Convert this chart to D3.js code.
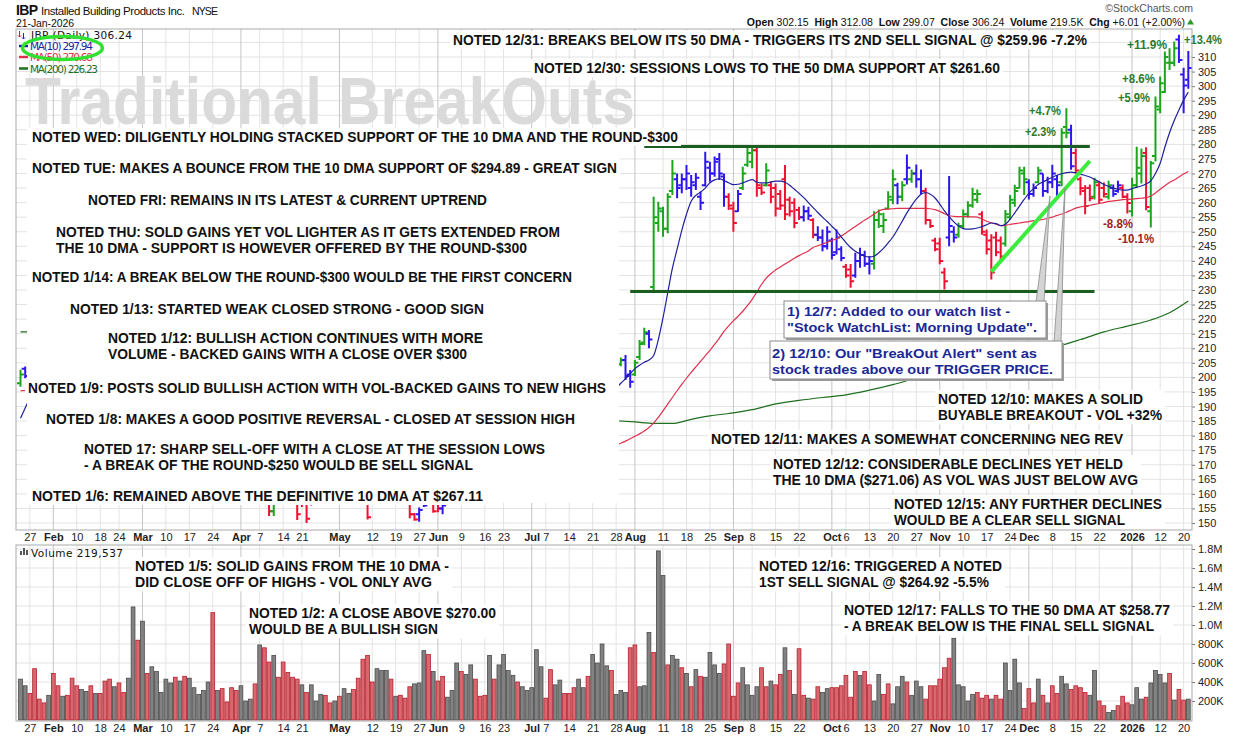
<!DOCTYPE html>
<html>
<head>
<meta charset="utf-8">
<title>IBP - Traditional BreakOuts</title>
<script src="https://cdn.jsdelivr.net/npm/d3@7/dist/d3.min.js"></script>
<style>
  body { margin: 0; background: #fff; }
  svg { display: block; font-family: "Liberation Sans", Arial, sans-serif; }
  .axis text { font-size: 11px; fill: #222; font-family: "Liberation Sans", Arial, sans-serif; }
  .axis path { display: none; }
  .axis line { stroke: #777; }
</style>
</head>
<body>
<svg width="1240" height="737"></svg>
<script>
// trading calendar
const firstDay = "2025-01-23";
const lastDay = "2026-01-21";
const holidays = ["2025-02-17", "2025-04-18", "2025-05-26", "2025-06-19", "2025-07-04",
  "2025-09-01", "2025-11-27", "2025-12-25", "2026-01-01", "2026-01-19"];

// daily bars, Jul 29 2025 -> Jan 21 2026
const priceStart = "2025-07-29";
const priceOpen = [204.5, 206, 201, 201, 207, 212, 215, 231, 253, 257,
  251, 264, 268, 266, 268, 265, 266, 262, 266, 272,
  270, 275, 269, 262, 258, 257, 265, 273, 274, 278,
  265, 266, 266, 265, 263, 268, 261, 260, 257.5, 255,
  257, 254, 249, 248, 245, 247, 243, 244, 238, 237,
  235, 240, 242, 239, 239, 254, 252, 258, 261, 266,
  262, 268, 268, 270, 268, 264, 254, 247, 246, 236,
  248, 250, 249, 252, 256, 259, 261, 256, 249, 247,
  248, 247, 246, 255, 260, 265, 270, 267, 263, 267,
  270, 264, 267, 268, 267, 286, 285, 277, 268, 264,
  265, 262, 266, 265, 262, 265, 264, 265, 262, 257,
  266, 270, 277, 257, 276, 292, 298, 308, 308, 316, 304, 302.15];
const priceHigh = [206.8, 207.7, 202.5, 206, 212.8, 217, 216.3, 262, 260.3, 258.6,
  263.2, 274.6, 270, 270, 272.9, 269.5, 270.2, 263.8, 277.5, 274,
  275.8, 277, 270, 263.2, 260.3, 264.3, 272.3, 279.2, 279.2, 279.2,
  266.6, 273.5, 267.2, 266.6, 264.3, 272.9, 262, 261.5, 258.6, 259,
  258.6, 254.6, 251.9, 250.8, 251.9, 247.9, 250.8, 245, 238.9, 238.9,
  242.8, 244.5, 243.5, 241.6, 257, 257.6, 256.5, 263.9, 271.4, 266.8,
  267.3, 276.5, 271.4, 273.1, 271.4, 265.1, 254.2, 247.9, 247.9, 237.6,
  269.1, 251.9, 253.1, 257.6, 260.5, 265.1, 264.5, 257, 250.8, 249.1,
  250, 248.4, 257.5, 262.6, 266.1, 272.3, 272.3, 268, 266.6, 272.3,
  270, 268.9, 273, 269.5, 285.5, 292.4, 286.7, 278.6, 268.9, 266,
  266.2, 268.5, 267.5, 266.9, 267.5, 266.2, 267.5, 266.2, 263.2, 268.5,
  279.2, 278.6, 279, 274.3, 296.4, 303.3, 311.9, 313, 315.3, 317.6, 306.3, 312.08];
const priceLow = [203.8, 199.1, 196.4, 200.5, 206, 211, 210, 229.5, 250, 248.3,
  249.5, 262.6, 261.5, 263.2, 264.3, 262, 264.3, 257.5, 265.5, 267.2,
  268.9, 267.8, 258.6, 257.5, 250, 256.9, 264.3, 272.3, 271.8, 262,
  262.6, 265.5, 259.8, 255.2, 257.5, 254, 255.2, 251.2, 254, 253.5,
  254, 247.8, 246.8, 243.3, 243.9, 240.5, 242.2, 239.9, 234.2, 230.8,
  234.2, 237.6, 238, 235.3, 237, 251.3, 249.6, 257.6, 259.4, 259.4,
  260.5, 266.2, 266.8, 265.1, 262.8, 252.5, 251.3, 243.3, 238.8, 230.2,
  245, 246.3, 247.9, 251, 254.8, 258.2, 259.9, 249, 242.2, 233.6,
  241.6, 240.3, 244.9, 254, 258.6, 264.9, 262.6, 261.1, 262, 266.6,
  262, 263.2, 265, 260.9, 265.6, 282.1, 271.3, 270, 262.5, 256,
  260.5, 261.1, 259.9, 261.8, 261.1, 262, 263.4, 261.5, 256.3, 255.2,
  265, 266.6, 257.4, 251.5, 274.1, 290.7, 297.6, 305.5, 306.8, 307.9, 290.7, 299.07];
const priceClose = [205.9, 200.5, 198.5, 205, 211.5, 215.5, 213, 255, 258, 251,
  262, 270, 265, 268, 270, 267, 268.5, 260, 274, 270,
  274, 270, 262, 259, 253, 263, 270, 277, 278, 266,
  263.5, 271, 262, 258, 259, 256, 257, 253, 255, 257,
  255.5, 249, 248, 245, 250, 242, 248, 241, 235, 233,
  240, 242, 239, 240, 254, 256, 254, 262, 268, 262,
  266, 272, 270, 268, 264, 254, 252, 244, 240, 233,
  252, 248, 252, 256, 259, 263, 263, 250, 244, 236,
  243, 241.5, 256, 261, 264, 271, 268, 263, 265, 271,
  264, 267, 270, 266, 284, 284, 272.5, 271, 264.9, 258.8,
  261.5, 267, 261, 263, 266, 263, 266, 262, 259.9, 266,
  272, 276, 258.5, 273.5, 293, 301, 310, 308, 313, 309, 300.2, 306.24];
const priceColor = ("gbbgggbggg" + "ggbbbbbbbb" + "bbbrrbgggr" + "rgrrrrrrrb" + "brbbbbbbrr" +
  "bbbbgggggb" + "gbgbbrrrrr" + "bbgggggrrr" + "rrgggggbbg" + "bbbbggbrrr" +
  "rgrrgbbrrg" + "ggrggggggbbb").split("");

// the few earlier bars that show around the notes
const earlyDays = ["2025-01-23", "2025-01-24", "2025-04-09", "2025-04-10", "2025-04-17", "2025-04-21",
  "2025-04-22", "2025-04-23", "2025-05-09", "2025-05-22", "2025-05-23", "2025-05-27", "2025-05-28",
  "2025-05-29", "2025-05-30", "2025-06-02", "2025-06-03"];
const earlyOpen = [198, 203, 158, 154, 159, 160, 158, 158, 160, 157, 153, 153, 158, 158, 157, 157, 155];
const earlyHigh = [202.6, 203.7, 161, 161, 162, 163, 162, 162, 163, 160, 153.4, 155.3, 161, 160, 160, 160, 160];
const earlyLow = [196.8, 199.7, 152.4, 152.4, 151, 155.5, 150, 156, 151.2, 151.6, 150.8, 150.4, 155.5, 157, 153.5, 153.7, 153];
const earlyClose = [201, 200.5, 154, 158, 153, 156.5, 151.5, 157.5, 152, 153, 151.2, 154.5, 156, 159, 154, 155, 156];
const earlyColor = "gbrgrrrbrrrbbgrrb".split("");

// moving averages, daily from Jul 28 2025
const maStart = "2025-07-28";
const ma10 = [196.3, 198, 199.5, 201.3, 203, 204.2, 205.2, 206, 207.5, 213,
  220.5, 229, 237.5, 244, 250.5, 256, 260.5, 262.5, 263.6, 265,
  266.8, 267.8, 268.2, 267.6, 266.8, 266.2, 266.3, 266.8, 267.4, 267.9,
  267, 266.8, 266.8, 267.1, 267.4, 267.4, 267, 266, 264.6, 263.2,
  261.7, 260, 258.3, 256.6, 255, 253.5, 251.9, 250.3, 248.2, 246.3,
  244.6, 243.3, 242.4, 241.6, 241.4, 241.6, 242.8, 244.3, 246.2, 248.2,
  250.8, 253.6, 256.5, 259, 261.2, 262.9, 263.4, 262.9, 261.6, 259.5,
  257.2, 255.2, 253.4, 252, 251.1, 250.9, 251, 251.3, 251.8, 252.4,
  253, 252.8, 252.1, 252.6, 254.3, 256.5, 258.8, 261.1, 263.2, 264.8,
  266.2, 267.1, 267.9, 268.7, 269.4, 269.9, 270.3, 270.5, 270.2, 269.8,
  269.3, 268.8, 268, 267.1, 266.2, 265.6, 265, 264.6, 264.3, 264.3,
  264.8, 265.3, 265.7, 266.4, 267.5, 270, 273.5, 279, 284, 288.2,
  291.8, 295.2, 297.94];
const ma50 = [176.9, 177.4, 178.1, 178.9, 179.8, 180.6, 181.6, 182.8, 184.3, 186.3,
  188.5, 190.8, 193.1, 195.4, 197.6, 199.7, 201.7, 203.6, 205.5, 207.4,
  209.3, 211.3, 213.5, 215.8, 217.7, 219.4, 221, 222.7, 224.6, 226.8,
  229.3, 231.9, 234.1, 235.6, 236.9, 237.9, 238.9, 239.9, 240.9, 241.8,
  242.6, 243.4, 244.6, 245.2, 245.8, 246.4, 247, 247.6, 248.5, 249.6,
  250.7, 251.8, 252.9, 254, 255, 256, 257.1, 257.7, 257.8, 257.9,
  258, 258, 258, 258, 258, 258, 258, 257.9, 257.6, 257,
  256.2, 255.5, 255.3, 255.2, 255.2, 255.2, 255.1, 255, 254.4, 253.6,
  253.1, 252.6, 252.1, 252.2, 252.5, 252.8, 253, 253.3, 253.5, 253.8,
  254, 254.2, 254.6, 255, 255.6, 256.1, 256.7, 257.4, 258.1, 258.5,
  258.8, 259.1, 259.4, 259.7, 260, 260.4, 260.6, 260.8, 261, 261.1,
  261.2, 261.4, 261.5, 261.7, 262.3, 263.3, 264.6, 265.8, 266.9, 267.8,
  268.8, 269.8, 270.7];
const ma200Days = ["2025-07-28", "2025-08-01", "2025-08-07", "2025-08-13", "2025-08-19", "2025-08-25",
  "2025-08-29", "2025-09-08", "2025-09-15", "2025-09-22", "2025-09-29", "2025-10-06", "2025-10-13",
  "2025-10-20", "2025-10-27", "2025-11-03", "2025-11-10", "2025-11-17", "2025-11-24", "2025-12-02",
  "2025-12-09", "2025-12-16", "2025-12-23", "2025-12-31", "2026-01-08", "2026-01-14", "2026-01-21"];
const ma200 = [185.1, 184.7, 184.2, 184.2, 185.6, 186.8, 187.6, 188.9, 190.9, 192.1, 193.1, 194,
  195.6, 197.5, 199.8, 201.9, 203.8, 205.4, 207.1, 208.7, 210.6, 213, 215.6, 217.6, 219.7, 222.2, 226.2];
const maEarlyDays = ["2025-01-23", "2025-01-24", "2025-01-27"];
const ma10Early = [186, 189.5, 193];
const ma50Early = [195.4, 195.5, 195.6];
const ma200Early = [215.6, 215.6, 215.7];

// volume (thousands), daily from Jan 23 2025
const volumeK = [430, 360, 280, 540, 220, 180, 260, 490, 360, 250,
  260, 440, 360, 320, 300, 360, 280, 280, 410, 430,
  350, 390, 290, 440, 1190, 840, 1040, 490, 560, 510,
  290, 430, 390, 450, 410, 460, 440, 340, 270, 310,
  400, 1130, 310, 330, 190, 340, 310, 360, 200, 220,
  380, 790, 760, 610, 680, 450, 610, 500, 450, 430,
  370, 290, 370, 200, 270, 260, 180, 200, 250, 330,
  280, 320, 440, 640, 680, 400, 540, 520, 520, 430,
  250, 260, 230, 350, 380, 390, 730, 690, 510, 410,
  460, 240, 310, 600, 510, 480, 580, 430, 250, 260,
  680, 430, 580, 690, 520, 470, 400, 350, 310, 340,
  740, 560, 230, 530, 370, 420, 280, 280, 340, 430,
  340, 460, 690, 600,
  800, 570, 520, 270, 310, 290, 760, 790, 350, 360,
  920, 710, 1780, 1520, 580, 680, 640, 550, 490, 350,
  530, 460, 450, 710, 580, 490, 590, 800, 250, 390,
  550, 370, 260, 350, 550, 350, 410, 370, 480, 760,
  520, 270, 750, 260, 230, 220, 350, 290, 330, 340,
  340, 360, 470, 240, 510, 470, 510, 370, 200, 480,
  270, 380, 170, 350, 460, 400, 260, 410, 350, 220,
  360, 360, 430, 550, 650, 860, 370, 350, 200, 270,
  290, 230, 260, 220, 260, 220, 600, 310, 640, 390,
  120, 330, 180, 430, 260, 180, 360, 280, 460, 380,
  320, 360, 340, 290, 260, 520, 200, 150, 80, 100,
  150, 250, 180, 160, 340, 220, 240, 390, 520, 480,
  390, 490, 210, 320, 210, 219.537];
const volumeColor = ("ggrrrrgrrg" + "rrrggrgrrr" + "grrggrgrgg" + "gggrgrgggg" + "grgrrrrggg" +
  "rgrrgrrrrr" + "grgggrrgrg" + "grrrrrgggr" + "grrrgggrgr" + "rgggrggrrr" + "grggggrggg" +
  "ggrrggrrrg" + "grg" + "g" +
  "ggrgggrrgg" + "grggrggrgr" + "grggggrrrr" + "ggggrrgrrg" + "rgrrgrrggr" + "rrrrrgrrgg" +
  "rrgggrgggr" + "rrrrrggggg" + "rrrgrrgggg" + "rrrgrgrrgg" + "rrrrggrrgg" + "rrrgggrggg" +
  "grgrrg").split("");

// hand-drawn lines
const levelFrom = ["2025-08-05", "2025-07-31"];
const levelTo = ["2025-12-18", "2025-12-19"];
const levelPrice = [279.3, 229.5];
const trendDays = ["2025-11-18", "2025-12-18"];
const trendPrice = [236.3, 274.3];

const priceGrid = d3.range(150, 316, 5);
const priceTicks = d3.range(150, 311, 5);
const volumeTicks = [200, 400, 600, 800, 1000, 1200, 1400, 1600, 1800];

// ---------------------------------------------------------------
const svg = d3.select("svg");
const P = { l: 16, r: 1192, t: 29, b: 530 };
const V = { l: 16, r: 1192, t: 545, b: 721 };

const fmtDay = d3.utcFormat("%Y-%m-%d");
const days = d3.utcDay
  .range(new Date(firstDay + "T00:00Z"), new Date(lastDay + "T12:00Z"))
  .filter(d => d.getUTCDay() % 6 !== 0 && !holidays.includes(fmtDay(d)))
  .map(fmtDay);
const dayDate = d => new Date(d + "T00:00Z");

const x = d3.scalePoint().domain(days).range([20.5, 20.5 + 4.69 * (days.length - 1)]);
const y = d3.scaleLinear().domain([150, 310]).range([523, 57]);
const yVol = d3.scaleLinear().domain([0, 1800]).range([720, 549]);

const run = (start, values) => {
  const i0 = days.indexOf(start);
  return values.map((v, i) => ({ day: days[i0 + i], v }));
};

// label days: first day of each month, first day of each week when not crowding a month label
const monthIdx = days.map((d, i) => i).filter(i => i > 0 && days[i].slice(0, 7) !== days[i - 1].slice(0, 7));
const weekIdx = days.map((d, i) => i).filter(i => i > 0 &&
  +d3.utcMonday.floor(dayDate(days[i])) !== +d3.utcMonday.floor(dayDate(days[i - 1])));
const labelIdx = days.map((d, i) => i).filter(i => {
  if (monthIdx.includes(i)) return true;
  if (!weekIdx.includes(i)) return false;
  const prev = d3.max(monthIdx.filter(m => m < i)) ?? -99;
  const next = d3.min(monthIdx.filter(m => m > i)) ?? 999;
  return i - prev >= 3 && next - i >= 4;
});
const labelDays = labelIdx.map(i => days[i]);
const monthDays = new Set(monthIdx.map(i => days[i]));
const labelText = d => {
  const dt = dayDate(d);
  if (monthDays.has(d)) return dt.getUTCMonth() === 0 ? d3.utcFormat("%Y")(dt) : d3.utcFormat("%b")(dt);
  return d3.utcFormat("%-d")(dt);
};

const defs = svg.append("defs");
defs.append("clipPath").attr("id", "pclip").append("rect")
  .attr("x", P.l).attr("y", P.t).attr("width", P.r - P.l).attr("height", P.b - P.t);
defs.append("clipPath").attr("id", "vclip").append("rect")
  .attr("x", V.l).attr("y", V.t).attr("width", V.r - V.l).attr("height", V.b - V.t);

// ---------------- grids ----------------
const grid = svg.append("g");
grid.selectAll("line.ph").data(priceGrid).join("line")
  .attr("x1", P.l).attr("x2", P.r).attr("y1", d => y(d)).attr("y2", d => y(d))
  .attr("stroke", "#e3e3e3");
grid.selectAll("line.vh").data(volumeTicks).join("line")
  .attr("x1", V.l).attr("x2", V.r).attr("y1", d => yVol(d)).attr("y2", d => yVol(d))
  .attr("stroke", "#e3e3e3");
[P, V].forEach(p => {
  grid.append("g").selectAll("line").data(labelDays).join("line")
    .attr("x1", d => x(d)).attr("x2", d => x(d)).attr("y1", p.t).attr("y2", p.b)
    .attr("stroke", d => monthDays.has(d) ? "#c4c4c4" : "#e3e3e3");
});

// watermark
svg.append("text").attr("x", 25).attr("y", 124)
  .attr("font-size", 66).attr("font-weight", "bold").attr("fill", "#dadada")
  .attr("textLength", 610).attr("lengthAdjust", "spacingAndGlyphs")
  .text("Traditional BreakOuts");

// ---------------- price panel ----------------
const gp = svg.append("g").attr("clip-path", "url(#pclip)");
const barColors = { g: "#1ca51c", r: "#f01030", b: "#2e16ee" };

const bars = run(priceStart, priceClose).map((p, i) => ({
  day: p.day, o: priceOpen[i], h: priceHigh[i], l: priceLow[i], c: p.v, k: priceColor[i]
})).concat(earlyDays.map((day, i) => ({
  day, o: earlyOpen[i], h: earlyHigh[i], l: earlyLow[i], c: earlyClose[i], k: earlyColor[i]
})));

gp.selectAll("path.bar").data(bars).join("path")
  .attr("class", "bar")
  .attr("d", b => {
    const cx = x(b.day);
    return `M${cx},${y(b.h)}V${y(b.l)}M${cx - 3.5},${y(b.o)}H${cx}M${cx},${y(b.c)}H${cx + 3.5}`;
  })
  .attr("fill", "none")
  .attr("stroke", b => barColors[b.k])
  .attr("stroke-width", 2);

const maLine = d3.line().x(d => x(d.day)).y(d => y(d.v)).curve(d3.curveMonotoneX);
const maSets = [
  { a: ma200Days.map((day, i) => ({ day, v: ma200[i] })), e: run(maEarlyDays[0], ma200Early), c: "#1e6e1e" },
  { a: run(maStart, ma50), e: run(maEarlyDays[0], ma50Early), c: "#e0304c" },
  { a: run(maStart, ma10), e: run(maEarlyDays[0], ma10Early), c: "#1f1f9e" }
];
maSets.forEach(m => {
  [m.a, m.e].forEach(seg => gp.append("path").attr("d", maLine(seg))
    .attr("fill", "none").attr("stroke", m.c).attr("stroke-width", 1.2));
});

// support / resistance levels and the trendline
gp.selectAll("line.level").data(levelPrice).join("line")
  .attr("x1", (d, i) => x(levelFrom[i])).attr("x2", (d, i) => x(levelTo[i]))
  .attr("y1", d => y(d)).attr("y2", d => y(d))
  .attr("stroke", "#1b5e20").attr("stroke-width", 3);
gp.append("line")
  .attr("x1", x(trendDays[0])).attr("y1", y(trendPrice[0]))
  .attr("x2", x(trendDays[1])).attr("y2", y(trendPrice[1]))
  .attr("stroke", "#3cec3c").attr("stroke-width", 4);

// ---------------- volume panel ----------------
const gv = svg.append("g").attr("clip-path", "url(#vclip)");
gv.selectAll("rect").data(run(firstDay, volumeK)).join("rect")
  .attr("x", d => x(d.day) - 1.9).attr("width", 3.8)
  .attr("y", d => yVol(d.v)).attr("height", d => yVol(0) - yVol(d.v))
  .attr("fill", (d, i) => volumeColor[i] === "r" ? "#d9676f" : "#828282")
  .attr("stroke", (d, i) => volumeColor[i] === "r" ? "#b3202c" : "#4a4a4a")
  .attr("stroke-width", 0.8);

// ---------------- notes ----------------
const notes = [
  { x: 453, y: 40, w: [634], t: ["NOTED 12/31: BREAKS BELOW ITS 50 DMA - TRIGGERS ITS 2ND SELL SIGNAL @ $259.96 -7.2%"] },
  { x: 534, y: 68, w: [466], t: ["NOTED 12/30: SESSIONS LOWS TO THE 50 DMA SUPPORT AT $261.60"] },
  { x: 32, y: 137, w: [646], t: ["NOTED WED: DILIGENTLY HOLDING STACKED SUPPORT OF THE 10 DMA AND THE ROUND-$300"] },
  { x: 32, y: 168, w: [585], t: ["NOTED TUE: MAKES A BOUNCE FROM THE 10 DMA SUPPORT OF $294.89 - GREAT SIGN"] },
  { x: 88, y: 200, w: [399], t: ["NOTED FRI: REMAINS IN ITS LATEST & CURRENT UPTREND"] },
  { x: 56, y: 232, w: [504, 471], t: ["NOTED THU: SOLD GAINS YET VOL LIGHTER AS IT GETS EXTENDED FROM",
    "THE 10 DMA - SUPPORT IS HOWEVER OFFERED BY THE ROUND-$300"] },
  { x: 32, y: 277, w: [540], t: ["NOTED 1/14: A BREAK BELOW THE ROUND-$300 WOULD BE THE FIRST CONCERN"] },
  { x: 70, y: 309, w: [414], t: ["NOTED 1/13: STARTED WEAK CLOSED STRONG - GOOD SIGN"] },
  { x: 108, y: 338, w: [375, 359], t: ["NOTED 1/12: BULLISH ACTION CONTINUES WITH MORE",
    "VOLUME - BACKED GAINS WITH A CLOSE OVER $300"] },
  { x: 28, y: 388, w: [578], t: ["NOTED 1/9: POSTS SOLID BULLISH ACTION WITH VOL-BACKED GAINS TO NEW HIGHS"] },
  { x: 46, y: 419, w: [529], t: ["NOTED 1/8: MAKES A GOOD POSITIVE REVERSAL - CLOSED AT SESSION HIGH"] },
  { x: 84, y: 449, w: [461, 389], t: ["NOTED 17: SHARP SELL-OFF WITH A CLOSE AT THE SESSION LOWS",
    "- A BREAK OF THE ROUND-$250 WOULD BE SELL SIGNAL"] },
  { x: 32, y: 496, w: [451], t: ["NOTED 1/6: REMAINED ABOVE THE DEFINITIVE 10 DMA AT $267.11"] },
  { x: 938, y: 399, w: [205, 224], t: ["NOTED 12/10: MAKES A SOLID", "BUYABLE BREAKOUT - VOL +32%"] },
  { x: 711, y: 439, w: [412], t: ["NOTED 12/11: MAKES A SOMEWHAT CONCERNING NEG REV"] },
  { x: 773, y: 464, w: [350, 365], t: ["NOTED 12/12: CONSIDERABLE DECLINES YET HELD",
    "THE 10 DMA ($271.06) AS VOL WAS JUST BELOW AVG"] },
  { x: 894, y: 504, w: [268, 231], t: ["NOTED 12/15: ANY FURTHER DECLINES", "WOULD BE A CLEAR SELL SIGNAL"] },
  { x: 135, y: 566, w: [314, 297], t: ["NOTED 1/5: SOLID GAINS FROM THE 10 DMA -", "DID CLOSE OFF OF HIGHS - VOL ONLY AVG"] },
  { x: 249, y: 613, w: [247, 189], t: ["NOTED 1/2: A CLOSE ABOVE $270.00", "WOULD BE A BULLISH SIGN"] },
  { x: 759, y: 566, w: [243, 230], t: ["NOTED 12/16: TRIGGERED A NOTED", "1ST SELL SIGNAL @ $264.92 -5.5%"] },
  { x: 844, y: 610, w: [326, 310], t: ["NOTED 12/17: FALLS TO THE 50 DMA AT $258.77", "- A BREAK BELOW IS THE FINAL SELL SIGNAL"] }
];
const lineGap = 16.3;
const gn = svg.append("g");
// the stacked left-hand notes share one white backing
gn.append("rect").attr("x", 27).attr("y", 128).attr("width", 592).attr("height", 375).attr("fill", "#fff");
gn.selectAll("rect.nb").data(notes).join("rect")
  .attr("x", d => d.x - 3).attr("y", d => d.y - 9)
  .attr("width", d => d3.max(d.w) + 6).attr("height", d => 18 + lineGap * (d.t.length - 1))
  .attr("fill", "#fff");
notes.forEach(n => n.t.forEach((t, i) => {
  gn.append("text").attr("x", n.x).attr("y", n.y + 5 + i * lineGap)
    .attr("font-size", 14).attr("font-weight", "bold").attr("fill", "#111")
    .attr("textLength", n.w[i]).attr("lengthAdjust", "spacingAndGlyphs")
    .text(t);
}));

// boxed call-outs with pointers
const callouts = [
  { box: [784, 301, 262, 37], x: 787, y: 311, w: [223, 250],
    t: ["1) 12/7: Added to our watch list -", "\"Stock WatchList: Morning Update\"."],
    ptr: [[1036, 302], [1044, 302], [1050, 196]] },
  { box: [770, 341, 292, 38], x: 772, y: 353, w: [265, 281],
    t: ["2) 12/10: Our \"BreakOut Alert\" sent as", "stock trades above our TRIGGER PRICE."],
    ptr: [[1054, 342], [1061, 342], [1065, 188]] }
];
callouts.forEach(c => {
  gn.append("polygon").attr("points", c.ptr.map(p => p.join(",")).join(" "))
    .attr("fill", "#d4d4d4").attr("stroke", "#8a8a8a").attr("stroke-width", 0.8);
});
callouts.forEach(c => {
  const [bx, by, bw, bh] = c.box;
  gn.append("rect").attr("x", bx + 2).attr("y", by + 2).attr("width", bw).attr("height", bh).attr("fill", "#9c9c9c");
  gn.append("rect").attr("x", bx).attr("y", by).attr("width", bw).attr("height", bh)
    .attr("fill", "#fff").attr("stroke", "#8c8c8c");
  c.t.forEach((t, i) => gn.append("text").attr("x", c.x).attr("y", c.y + 5 + i * 15.6)
    .attr("font-size", 13).attr("font-weight", "bold").attr("fill", "#1a2896")
    .attr("textLength", c.w[i]).attr("lengthAdjust", "spacingAndGlyphs").text(t));
});

// percent marks
const pctLabels = [
  { t: "+13.4%", x: 1184, y: 39, w: 38, up: true }, { t: "+11.9%", x: 1127, y: 44, w: 40, up: true },
  { t: "+8.6%", x: 1122, y: 78, w: 33, up: true }, { t: "+5.9%", x: 1118, y: 97, w: 32, up: true },
  { t: "+4.7%", x: 1029, y: 110, w: 32, up: true }, { t: "+2.3%", x: 1025, y: 131, w: 31, up: true },
  { t: "-8.8%", x: 1103, y: 223, w: 30, up: false }, { t: "-10.1%", x: 1118, y: 238, w: 36, up: false }
];
gn.selectAll("text.pct").data(pctLabels).join("text")
  .attr("x", d => d.x).attr("y", d => d.y + 4.5)
  .attr("font-size", 12.5).attr("font-weight", "bold")
  .attr("fill", d => d.up ? "#2b7a2b" : "#9e1c1c")
  .attr("textLength", d => d.w).attr("lengthAdjust", "spacingAndGlyphs")
  .text(d => d.t);

// ---------------- legends ----------------
const lg = svg.append("g").attr("font-family", "DejaVu Sans, sans-serif").attr("font-size", 10.5);
lg.append("path").attr("d", "M19.5,31V37M18,35.5L19.5,37L21,35.5").attr("stroke", "#e01a2a").attr("fill", "none");
lg.append("path").attr("d", "M23.5,33V39M22,37.5L23.5,39L25,37.5").attr("stroke", "#2e16ee").attr("fill", "none");
lg.append("text").attr("x", 31).attr("y", 39).attr("fill", "#111").attr("textLength", 101).text("IBP (Daily) 306.24");
const maLegend = [
  { t: "MA(10) 297.94", c: "#1f1f9e", y: 46, w: 63 },
  { t: "MA(50) 270.68", c: "#e0304c", y: 57, w: 63 },
  { t: "MA(200) 226.23", c: "#1e6e1e", y: 68.5, w: 68 }
];
maLegend.forEach(m => {
  lg.append("line").attr("x1", 19).attr("x2", 28).attr("y1", m.y).attr("y2", m.y).attr("stroke", m.c).attr("stroke-width", 2.5);
  lg.append("text").attr("x", 30).attr("y", m.y + 4).attr("fill", m.c).attr("textLength", m.w).text(m.t);
});
lg.append("ellipse").attr("cx", 62.5).attr("cy", 48).attr("rx", 40).attr("ry", 11.5)
  .attr("fill", "none").attr("stroke", "#2fe22f").attr("stroke-width", 3.5);
[[20, 4], [23, 7], [26, 5]].forEach(([bx, bh]) => lg.append("rect")
  .attr("x", bx).attr("y", 555 - bh).attr("width", 2).attr("height", bh).attr("fill", "#555"));
lg.append("text").attr("x", 31).attr("y", 557).attr("fill", "#111").attr("textLength", 92).text("Volume 219,537");

// ---------------- axes ----------------
const dateAxis = (g) => g.call(d3.axisBottom(x).tickValues(labelDays).tickFormat(labelText).tickSize(0).tickPadding(3))
  .call(g => g.selectAll("text").attr("font-weight", d => monthDays.has(d) ? "bold" : null));
svg.append("g").attr("class", "axis").attr("transform", `translate(0,${P.b})`).call(dateAxis);
svg.append("g").attr("class", "axis").attr("transform", `translate(0,${V.b})`).call(dateAxis);

svg.append("g").attr("class", "axis").attr("transform", `translate(${P.r},0)`)
  .call(d3.axisRight(y).tickValues(priceTicks).tickSize(3).tickPadding(3));
svg.append("g").attr("class", "axis").attr("transform", `translate(${V.r},0)`)
  .call(d3.axisRight(yVol).tickValues(volumeTicks).tickSize(3).tickPadding(3)
    .tickFormat(v => v >= 1000 ? (v / 1000).toFixed(1) + "M" : v + "K"));

// panel frames
[P, V].forEach(p => svg.append("rect").attr("x", p.l).attr("y", p.t)
  .attr("width", p.r - p.l).attr("height", p.b - p.t)
  .attr("fill", "none").attr("stroke", "#a9a9a9"));

// ---------------- header ----------------
const hd = svg.append("g").attr("fill", "#111");
hd.append("text").attr("x", 16).attr("y", 15).attr("font-size", 14).attr("font-weight", "bold")
  .attr("textLength", 22).text("IBP");
hd.append("text").attr("x", 41).attr("y", 15).attr("font-size", 11.5).attr("textLength", 144)
  .text("Installed Building Products Inc.");
hd.append("text").attr("x", 192).attr("y", 15).attr("font-size", 10.5).attr("textLength", 26).text("NYSE");
hd.append("text").attr("x", 16).attr("y", 27).attr("font-size", 10.5).attr("textLength", 58).text("21-Jan-2026");
hd.append("text").attr("x", 1193).attr("y", 12).attr("font-size", 10.5).attr("fill", "#555")
  .attr("text-anchor", "end").text("\u00A9StockCharts.com");
const quote = hd.append("text").attr("x", 1185).attr("y", 26).attr("font-size", 10.5).attr("text-anchor", "end");
[["Open", " 302.15  "], ["High", " 312.08  "], ["Low", " 299.07  "], ["Close", " 306.24  "],
 ["Volume", " 219.5K  "], ["Chg", " +6.01 (+2.00%)"]].forEach(([k, v]) => {
  quote.append("tspan").attr("font-weight", "bold").text(k);
  quote.append("tspan").attr("xml:space", "preserve").style("white-space", "pre").text(v);
});
hd.append("path").attr("d", "M1187,24.5L1190.5,19L1194,24.5Z").attr("fill", "#2a9a2a");
</script>
</body>
</html>
